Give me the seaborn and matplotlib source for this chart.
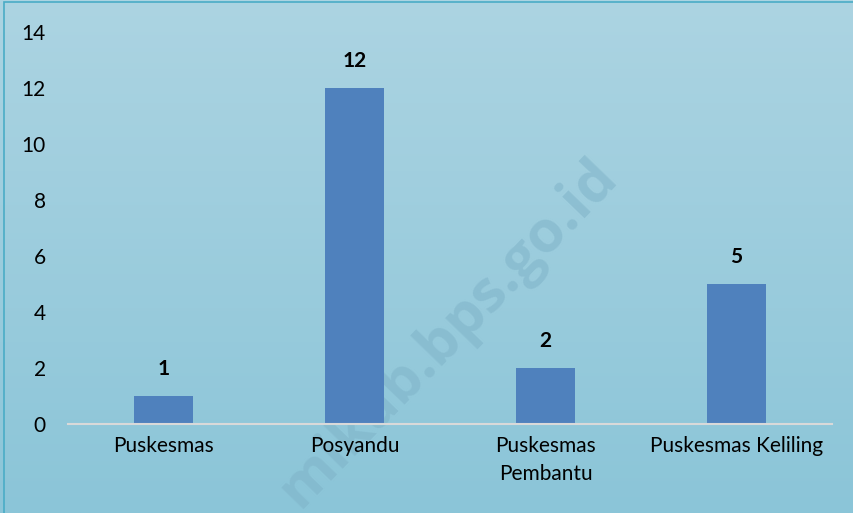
import numpy as np
import pandas as pd
import matplotlib
matplotlib.use("Agg")
import matplotlib.pyplot as plt
import seaborn as sns
from matplotlib.patches import Rectangle

# data
categories = ["Puskesmas", "Posyandu", "Puskesmas\nPembantu", "Puskesmas Keliling"]
counts = [1, 12, 2, 5]
y_ticks = [0, 2, 4, 6, 8, 10, 12, 14]

df = pd.DataFrame({"kategori": categories, "jumlah": counts})

sns.set_theme(style="white")
plt.rcParams["font.family"] = ["Lato", "DejaVu Sans"]

fig = plt.figure(figsize=(8.54, 5.13), dpi=100)

# gradient background over the whole figure
bg = fig.add_axes([0, 0, 1, 1], zorder=-10)
top_col = np.array([172, 212, 226]) / 255
bot_col = np.array([139, 197, 216]) / 255
t = np.linspace(0, 1, 256)[:, None]
grad = top_col * (1 - t[..., None]) + bot_col * t[..., None]
grad = np.repeat(grad, 2, axis=1)
bg.imshow(grad, aspect="auto", extent=[0, 1, 0, 1])
bg.set_axis_off()
bg.add_patch(Rectangle((0.005, -0.01), 1.1, 1.006, transform=bg.transAxes,
                       fill=False, edgecolor="#4aacc6", linewidth=1.2))
bg.text(0.525, 0.35, "mikab.bps.go.id", transform=bg.transAxes, rotation=46,
        ha="center", va="center", fontsize=42, fontweight="bold",
        color="#7fb3c8", alpha=0.55, family=["Open Sans", "DejaVu Sans"])

ax = fig.add_axes([0.0796, 0.1735, 0.8946, 0.7641])
ax.patch.set_alpha(0)
sns.barplot(data=df, x="kategori", y="jumlah", color="#4f81bd", width=0.31,
            saturation=1, linewidth=0, edgecolor="none", ax=ax, zorder=3)

for i, v in enumerate(counts):
    ax.text(i, v + 0.6, str(v), ha="center", va="bottom", fontsize=15,
            fontweight="bold", color="black")

ax.set_ylim(0, 14)
ax.set_xlim(-0.5, 3.5)
ax.set_yticks(y_ticks)
ax.set_xlabel("")
ax.set_ylabel("")
ax.tick_params(axis="both", length=0, labelsize=15, colors="black")
ax.tick_params(axis="y", pad=16)
ax.tick_params(axis="x", pad=9)
for lbl in ax.get_xticklabels():
    lbl.set_linespacing(1.45)
for s in ["top", "right", "left"]:
    ax.spines[s].set_visible(False)
ax.spines["bottom"].set_color("#d9d9d9")
ax.spines["bottom"].set_linewidth(1.5)
ax.spines["bottom"].set_zorder(4)

fig.savefig("out.png", dpi=100)
